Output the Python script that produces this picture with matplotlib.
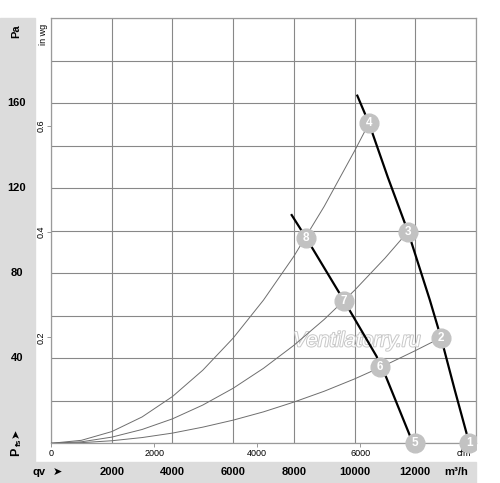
import matplotlib
matplotlib.use("Agg")
import matplotlib.pyplot as plt
import matplotlib.patheffects as pe
from matplotlib.patches import Rectangle
import matplotlib.transforms as mtransforms

plt.rcParams['font.family'] = ['Liberation Sans', 'DejaVu Sans']

# system curves (thin): airflow m3/h, pressure Pa
sys_high_q = [0, 1000, 2000, 3000, 4000, 5000, 6000, 7000, 8000, 9000, 10000, 10475]
sys_high_pa = [0, 1.4, 5.5, 12.4, 22, 34.4, 49.5, 67.4, 88, 111.5, 137.6, 150.6]
sys_mid_q = [0, 1000, 2000, 3000, 4000, 5000, 6000, 7000, 8000, 9000, 10000, 11000, 11760]
sys_mid_pa = [0, 0.7, 2.9, 6.5, 11.5, 18, 25.9, 35.3, 46.1, 58.3, 72, 87.1, 99.6]
sys_low_q = [0, 1000, 2000, 3000, 4000, 5000, 6000, 7000, 8000, 9000, 10000, 11000, 12000, 12847]
sys_low_pa = [0, 0.3, 1.2, 2.7, 4.8, 7.6, 10.9, 14.8, 19.4, 24.5, 30.3, 36.7, 43.6, 49.7]

# fan curves (thick)
fan_a_q = [10090, 10475, 11100, 11760, 12480, 12847, 13300, 13779]
fan_a_pa = [163.6, 150.6, 125, 99.6, 67.4, 49.7, 25.1, 0]
fan_b_q = [7929, 8400, 9652, 10729, 10838, 11035, 11925]
fan_b_pa = [107.4, 96.8, 67.1, 40.8, 36.0, 31.3, 0]

# numbered operating points
pt_labels = ['1', '2', '3', '4', '5', '6', '7', '8']
pt_q = [13779, 12847, 11760, 10475, 11990, 10838, 9652, 8400]
pt_pa = [0, 49.7, 99.6, 150.6, 0, 36.0, 67.1, 96.8]

qv_ticks = [2000, 4000, 6000, 8000, 10000, 12000]
pa_ticks = [40, 80, 120, 160]
cfm_ticks = [0, 2000, 4000, 6000, 8000]
cfm_labels = ['0', '2000', '4000', '6000', 'cfm']
inwg_ticks = [0.2, 0.4, 0.6]

fig = plt.figure(figsize=(5.0, 4.83), dpi=100)
band = '#dcdcdc'
fig.patches.append(Rectangle((0, 0), 35 / 500, 465 / 483, transform=fig.transFigure,
                             color=band, zorder=-5))
fig.patches.append(Rectangle((0, 0), 476 / 500, 21 / 483, transform=fig.transFigure,
                             color=band, zorder=-5))

ax = fig.add_axes([51 / 500, 39.7 / 483, 425 / 500, 425 / 483])
ax.set_xlim(0, 14000)
ax.set_ylim(0, 200)
ax.set_xticks(range(0, 14001, 2000))
ax.set_yticks(range(0, 201, 20))
ax.tick_params(length=0, labelbottom=False, labelleft=False)
ax.grid(True, color='#888888', lw=0.8)
for s in ax.spines.values():
    s.set_color('#9a9a9a')
    s.set_linewidth(0.9)

for q, p in [(sys_high_q, sys_high_pa), (sys_mid_q, sys_mid_pa), (sys_low_q, sys_low_pa)]:
    ax.plot(q, p, color='#6e6e6e', lw=0.7, zorder=3)
ax.plot(fan_a_q, fan_a_pa, color='black', lw=1.6, zorder=4)
ax.plot(fan_b_q, fan_b_pa, color='black', lw=1.6, zorder=4)

# clip markers only at the sides / top, let them hang below the axis
clip = Rectangle((0, -0.1), 1, 1.2, transform=ax.transAxes, visible=False)
ax.add_patch(clip)
for lab, q, p in zip(pt_labels, pt_q, pt_pa):
    m, = ax.plot(q, p, 'o', ms=13.5, color='#c2c2c2', mec='#c2c2c2', zorder=5)
    m.set_clip_path(clip)
    t = ax.text(q, p, lab, color='white', fontsize=8.5, fontweight='bold',
                ha='center', va='center', zorder=6)
    t.set_clip_path(clip)

ax.text(0.72, 0.241, 'Ventilatorry.ru', transform=ax.transAxes, fontsize=15,
        style='italic', color='white', ha='center', va='center', zorder=2,
        path_effects=[pe.withStroke(linewidth=1.4, foreground='#c8c8c8')])

# cfm scale under the axis
sx = ax.secondary_xaxis('bottom', functions=(lambda q: q / 1.699, lambda c: c * 1.699))
sx.set_xticks(cfm_ticks)
sx.set_xticklabels(cfm_labels)
sx.tick_params(length=3, width=0.6, color='#888888', labelsize=6.5, pad=1)
sx.spines['bottom'].set_visible(False)

# in wg scale left of the axis
sy = ax.secondary_yaxis('left', functions=(lambda p: p / 249.09, lambda w: w * 249.09))
sy.set_yticks(inwg_ticks)
sy.set_yticklabels([str(v) for v in inwg_ticks], rotation=90, va='center')
sy.tick_params(length=3, width=0.6, color='#888888', labelsize=6.5, pad=1)
sy.spines['left'].set_visible(False)
ax.text(-0.018, 0.963, 'in wg', transform=ax.transAxes, rotation=90, fontsize=6.5,
        ha='center', va='center')

# bold Pa labels in the left band
tr_y = mtransforms.blended_transform_factory(fig.transFigure, ax.transData)
for v in pa_ticks:
    fig.text(17 / 500, 0, str(v), transform=tr_y, fontsize=8, fontweight='bold',
             ha='center', va='center').set_y(v)
fig.text(16 / 500, 0, 'Pa', transform=tr_y, fontsize=8, fontweight='bold',
         rotation=90, ha='center', va='center').set_y(194)
fig.text(16 / 500, 31.5 / 483, 'P', fontsize=9, fontweight='bold',
         rotation=90, ha='center', va='center')
fig.text(19 / 500, 41 / 483, 'fs', fontsize=6, fontweight='bold',
         rotation=90, ha='center', va='center')
fig.text(16 / 500, 50 / 483, '\u27a4', fontsize=8,
         rotation=90, ha='center', va='center', family='DejaVu Sans')

# bold m3/h labels in the bottom band
tr_x = mtransforms.blended_transform_factory(ax.transData, fig.transFigure)
for v in qv_ticks:
    fig.text(0, 11 / 483, str(v), transform=tr_x, fontsize=8, fontweight='bold',
             ha='center', va='center').set_x(v)
fig.text(456 / 500, 11 / 483, 'm\u00b3/h', fontsize=8,
         fontweight='bold', ha='center', va='center')
fig.text(39 / 500, 11 / 483, 'qv', fontsize=8,
         fontweight='bold', ha='center', va='center')
fig.text(57 / 500, 11 / 483, '\u27a4', fontsize=8,
         ha='center', va='center', family='DejaVu Sans')

fig.savefig('out.png', dpi=100)
